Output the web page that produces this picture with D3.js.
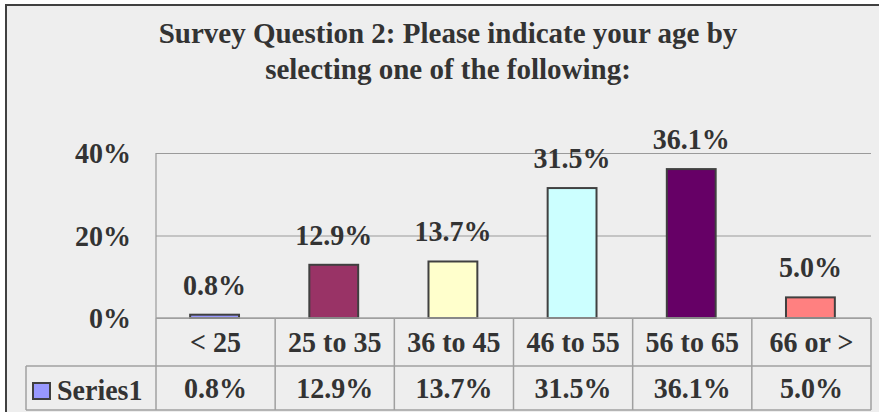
<!DOCTYPE html>
<html>
<head>
<meta charset="utf-8">
<script src="https://cdn.jsdelivr.net/npm/d3@7"></script>
<style>
  body { margin: 0; background: #fff; }
  svg { display: block; }
  text { font-family: "Liberation Serif", "Times New Roman", serif; font-weight: bold; fill: #333; }
</style>
</head>
<body>
<svg id="chart" width="879" height="412"></svg>
<script>
// data
const categories = ["< 25", "25 to 35", "36 to 45", "46 to 55", "56 to 65", "66 or >"];
const values = [0.8, 12.9, 13.7, 31.5, 36.1, 5.0];
const yTicks = [0, 20, 40];
const seriesName = "Series1";
const titleLines = ["Survey Question 2: Please indicate your age by", "selecting one of the following:"];
const barColors = ["#9999ff", "#993366", "#ffffcc", "#ccffff", "#660066", "#ff8080"];

const svg = d3.select("#chart");
const W = 879, H = 412;
const plot = { left: 156, right: 871, top: 153, bottom: 318 };
const row1 = 366, row2 = 410, tableLeft = 26;
const stretch = 1.07; // labels in the original are a bit taller than plain Times
const fmt = d => d.toFixed(1) + "%";
const place = (px, py) => `translate(${px},${py}) scale(1,${stretch})`;

// chart background + outer frame
svg.append("rect").attr("x", 0).attr("y", 0).attr("width", W).attr("height", H).attr("fill", "#fff");
svg.append("rect")
  .attr("x", 6).attr("y", 5).attr("width", W + 10).attr("height", H + 10)
  .attr("fill", "#eeeeee").attr("stroke", "#404040").attr("stroke-width", 2);

// title
svg.append("text")
  .attr("x", 448).attr("text-anchor", "middle").style("font-size", "29px")
  .selectAll("tspan").data(titleLines).join("tspan")
  .attr("x", 448).attr("y", (d, i) => 43 + i * 36).text(d => d);

const x = d3.scaleBand().domain(categories).range([plot.left, plot.right]).padding(0);
const y = d3.scaleLinear().domain([0, 40]).range([plot.bottom, plot.top]);
const barW = x.bandwidth() * 0.41;

// gridlines
const grid = svg.append("g").attr("transform", `translate(${plot.left},0)`)
  .call(d3.axisLeft(y).tickValues(yTicks).tickSize(-(plot.right - plot.left)).tickFormat(""));
grid.select(".domain").remove();
grid.selectAll("line").attr("stroke", "#9a9a9a").attr("stroke-width", 1.2);

// plot area left edge
svg.append("line")
  .attr("x1", plot.left).attr("x2", plot.left).attr("y1", plot.top).attr("y2", plot.bottom)
  .attr("stroke", "#9a9a9a").attr("stroke-width", 1.2);

// y axis labels
const yAxis = svg.append("g").attr("transform", "translate(131,0)")
  .call(d3.axisLeft(y).tickValues(yTicks).tickSize(0).tickPadding(0).tickFormat(d => d + "%"));
yAxis.select(".domain").remove();
yAxis.selectAll(".tick").each(function(d) {
  d3.select(this).attr("transform", place(0, y(d) + 10));
});
yAxis.selectAll("text").style("font-size", "28px").attr("fill", "#333")
  .attr("font-family", null).attr("dy", null).attr("x", 0);

// bars
svg.append("g").selectAll("rect").data(values).join("rect")
  .attr("x", (d, i) => x(categories[i]) + x.bandwidth() / 2 - barW / 2 - 1)
  .attr("y", d => y(d))
  .attr("width", barW)
  .attr("height", d => y(0) - y(d))
  .attr("fill", (d, i) => barColors[i])
  .attr("stroke", "#404040").attr("stroke-width", 2);

// data labels
svg.append("g").selectAll("text").data(values).join("text")
  .attr("transform", (d, i) => place(x(categories[i]) + x.bandwidth() / 2 - 1, y(d) - 20))
  .attr("text-anchor", "middle").style("font-size", "28px")
  .text(fmt);

// data table
const tbl = svg.append("g").attr("stroke", "#a0a0a0").attr("stroke-width", 1.5);
tbl.append("line").attr("x1", plot.left).attr("x2", plot.right).attr("y1", plot.bottom).attr("y2", plot.bottom);
tbl.append("line").attr("x1", tableLeft).attr("x2", plot.right).attr("y1", row1).attr("y2", row1);
tbl.append("line").attr("x1", tableLeft).attr("x2", plot.right).attr("y1", row2).attr("y2", row2);
tbl.append("line").attr("x1", tableLeft).attr("x2", tableLeft).attr("y1", row1).attr("y2", row2);
const edges = categories.map(c => x(c)).concat([plot.right]);
tbl.selectAll(".vline").data(edges).join("line").attr("class", "vline")
  .attr("x1", d => d).attr("x2", d => d).attr("y1", plot.bottom).attr("y2", row2);

// category labels
svg.append("g").selectAll("text").data(categories).join("text")
  .attr("transform", d => place(x(d) + x.bandwidth() / 2, 352))
  .attr("text-anchor", "middle").style("font-size", "28px")
  .text(d => d);

// value row
svg.append("g").selectAll("text").data(values).join("text")
  .attr("transform", (d, i) => place(x(categories[i]) + x.bandwidth() / 2, 398))
  .attr("text-anchor", "middle").style("font-size", "28px")
  .text(fmt);

// legend key + series name
svg.append("rect").attr("x", 33).attr("y", 383).attr("width", 17).attr("height", 16)
  .attr("fill", barColors[0]).attr("stroke", "#404040").attr("stroke-width", 2);
svg.append("text").attr("transform", place(57, 400)).style("font-size", "28px").text(seriesName);
</script>
</body>
</html>
